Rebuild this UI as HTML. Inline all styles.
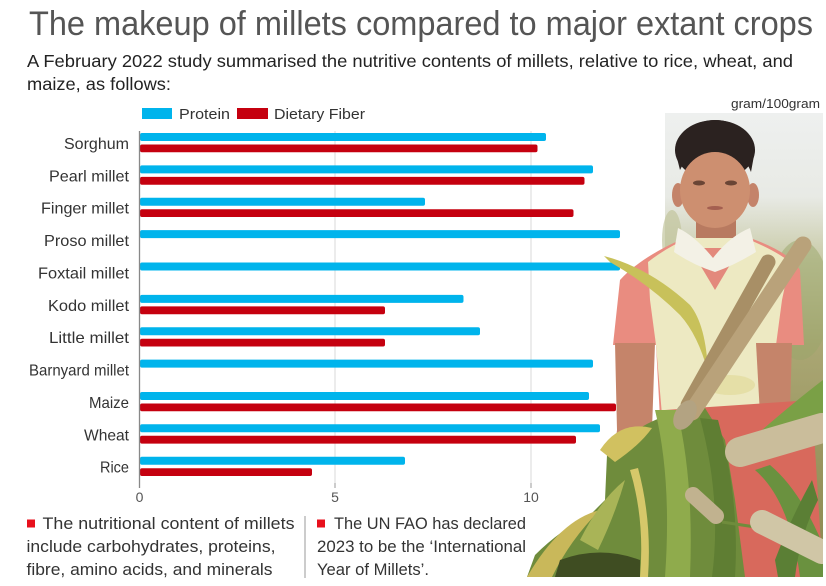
<!DOCTYPE html>
<html><head><meta charset="utf-8"><style>
html,body{margin:0;padding:0;background:#fff;}
svg{display:block;}
text{font-family:"Liberation Sans",sans-serif;}
</style></head><body>
<svg width="826" height="586" viewBox="0 0 826 586" xmlns="http://www.w3.org/2000/svg">
<defs>
<linearGradient id="bg" x1="0" y1="0" x2="0" y2="1">
<stop offset="0" stop-color="#eef0ef"/>
<stop offset="0.18" stop-color="#e8eae5"/>
<stop offset="0.32" stop-color="#c8caa6"/>
<stop offset="0.5" stop-color="#aaa774"/>
<stop offset="0.75" stop-color="#9a955f"/>
<stop offset="1" stop-color="#8a8a50"/>
</linearGradient>
<clipPath id="pc"><rect x="500" y="113" width="323" height="464"/></clipPath>
</defs>
<rect width="826" height="586" fill="#fff"/>

<!-- Title -->
<text x="29" y="35" font-size="34" fill="#555" textLength="784" lengthAdjust="spacingAndGlyphs">The makeup of millets compared to major extant crops</text>
<text x="27" y="67" font-size="17.5" fill="#222" textLength="766" lengthAdjust="spacingAndGlyphs">A February 2022 study summarised the nutritive contents of millets, relative to rice, wheat, and</text>
<text x="27" y="90" font-size="17.5" fill="#222" textLength="144" lengthAdjust="spacingAndGlyphs">maize, as follows:</text>

<!-- Legend -->
<rect x="142" y="108" width="30" height="11" fill="#00b4ec"/>
<text x="179" y="119" font-size="15" fill="#333" textLength="51" lengthAdjust="spacingAndGlyphs">Protein</text>
<rect x="237" y="108" width="31" height="11" fill="#c5000f"/>
<text x="274" y="119" font-size="15" fill="#333" textLength="91" lengthAdjust="spacingAndGlyphs">Dietary Fiber</text>
<text x="731" y="108" font-size="12.5" fill="#333" textLength="89" lengthAdjust="spacingAndGlyphs">gram/100gram</text>

<!-- Grid -->
<line x1="335" y1="131" x2="335" y2="483" stroke="#dadada" stroke-width="1"/>
<line x1="531" y1="131" x2="531" y2="483" stroke="#dadada" stroke-width="1"/>
<line x1="335" y1="483" x2="335" y2="488" stroke="#999" stroke-width="1"/>
<line x1="531" y1="483" x2="531" y2="488" stroke="#999" stroke-width="1"/>
<text x="139.5" y="502" font-size="14" fill="#555" text-anchor="middle">0</text>
<text x="335" y="502" font-size="14" fill="#555" text-anchor="middle">5</text>
<text x="531" y="502" font-size="14" fill="#555" text-anchor="middle">10</text>

<!-- Bars -->
<g fill="#00b4ec">
<rect x="140" y="133" width="406" height="8" rx="2"/>
<rect x="140" y="165.4" width="453" height="8" rx="2"/>
<rect x="140" y="197.7" width="285" height="8" rx="2"/>
<rect x="140" y="230.1" width="480" height="8" rx="2"/>
<rect x="140" y="262.5" width="480" height="8" rx="2"/>
<rect x="140" y="294.9" width="323.5" height="8" rx="2"/>
<rect x="140" y="327.2" width="340" height="8" rx="2"/>
<rect x="140" y="359.6" width="453" height="8" rx="2"/>
<rect x="140" y="392" width="449" height="8" rx="2"/>
<rect x="140" y="424.3" width="460" height="8" rx="2"/>
<rect x="140" y="456.7" width="265" height="8" rx="2"/>
</g>
<g fill="#c5000f">
<rect x="140" y="144.5" width="397.5" height="7.8" rx="2"/>
<rect x="140" y="176.9" width="444.5" height="7.8" rx="2"/>
<rect x="140" y="209.2" width="433.5" height="7.8" rx="2"/>
<rect x="140" y="306.4" width="245" height="7.8" rx="2"/>
<rect x="140" y="338.7" width="245" height="7.8" rx="2"/>
<rect x="140" y="403.5" width="476" height="7.8" rx="2"/>
<rect x="140" y="435.8" width="436" height="7.8" rx="2"/>
<rect x="140" y="468.2" width="172" height="7.8" rx="2"/>
</g>
<line x1="139.5" y1="131" x2="139.5" y2="488" stroke="#888" stroke-width="1.3"/>

<!-- Category labels -->
<g font-size="16" fill="#333">
<text x="64" y="149" textLength="65" lengthAdjust="spacingAndGlyphs">Sorghum</text>
<text x="49" y="181.4" textLength="80" lengthAdjust="spacingAndGlyphs">Pearl millet</text>
<text x="41" y="213.7" textLength="88" lengthAdjust="spacingAndGlyphs">Finger millet</text>
<text x="44" y="246.1" textLength="85" lengthAdjust="spacingAndGlyphs">Proso millet</text>
<text x="38" y="278.5" textLength="91" lengthAdjust="spacingAndGlyphs">Foxtail millet</text>
<text x="48" y="310.9" textLength="81" lengthAdjust="spacingAndGlyphs">Kodo millet</text>
<text x="49" y="343.2" textLength="80" lengthAdjust="spacingAndGlyphs">Little millet</text>
<text x="29" y="375.6" textLength="100" lengthAdjust="spacingAndGlyphs">Barnyard millet</text>
<text x="89" y="408" textLength="40" lengthAdjust="spacingAndGlyphs">Maize</text>
<text x="84" y="440.3" textLength="45" lengthAdjust="spacingAndGlyphs">Wheat</text>
<text x="100" y="472.5" textLength="29" lengthAdjust="spacingAndGlyphs">Rice</text>
</g>

<!-- Notes -->
<rect x="27" y="519.5" width="8" height="8" fill="#e8101c"/>
<g font-size="16.5" fill="#333">
<text x="42.5" y="529" textLength="252" lengthAdjust="spacingAndGlyphs">The nutritional content of millets</text>
<text x="26.5" y="552" textLength="249" lengthAdjust="spacingAndGlyphs">include carbohydrates, proteins,</text>
<text x="26.5" y="575" textLength="246" lengthAdjust="spacingAndGlyphs">fibre, amino acids, and minerals</text>
<text x="334" y="529" textLength="192" lengthAdjust="spacingAndGlyphs">The UN FAO has declared</text>
<text x="317" y="552" textLength="209" lengthAdjust="spacingAndGlyphs">2023 to be the ‘International</text>
<text x="317" y="575" textLength="112" lengthAdjust="spacingAndGlyphs">Year of Millets’.</text>
</g>
<line x1="305" y1="516" x2="305" y2="578" stroke="#999" stroke-width="1"/>
<rect x="317" y="519.5" width="8" height="8" fill="#e8101c"/>

<!-- Photo -->
<g clip-path="url(#pc)">
<rect x="665" y="113" width="158" height="464" fill="url(#bg)"/>
<ellipse cx="800" cy="300" rx="30" ry="60" fill="#9aa66a" opacity="0.5"/>
<ellipse cx="672" cy="240" rx="10" ry="30" fill="#c2c49c" opacity="0.7"/>
<!-- hair -->
<ellipse cx="715" cy="150" rx="40" ry="30" fill="#2b2220"/>
<!-- ears -->
<ellipse cx="678" cy="195" rx="6" ry="12" fill="#c4836a"/>
<ellipse cx="753" cy="195" rx="6" ry="12" fill="#c4836a"/>
<!-- neck -->
<rect x="696" y="215" width="40" height="28" fill="#b87a60"/>
<!-- face -->
<ellipse cx="715" cy="190" rx="35" ry="38" fill="#cd8f70"/>
<path d="M680,170 Q690,148 715,150 Q742,148 751,172 L755,150 Q745,120 714,120 Q682,122 675,150 Z" fill="#2b2220"/>
<ellipse cx="699" cy="183" rx="6" ry="2.5" fill="#6a4535"/>
<ellipse cx="731" cy="183" rx="6" ry="2.5" fill="#6a4535"/>
<ellipse cx="715" cy="208" rx="8" ry="2" fill="#a45f50"/>
<!-- shirt -->
<path d="M620,280 Q640,258 680,240 L750,238 Q790,252 800,270 L804,345 L758,345 L762,415 L660,418 L656,345 L613,345 Z" fill="#e98c80"/>
<path d="M648,262 Q670,245 690,238 L745,238 Q775,250 790,262 L782,300 L776,345 L782,410 L662,415 L656,345 L650,300 Z" fill="#ede9c2"/>
<path d="M690,248 L740,248 L715,290 Z" fill="#e3897c"/>
<path d="M678,228 Q695,236 713,258 Q730,236 750,228 L756,252 Q735,265 715,272 Q693,265 674,252 Z" fill="#f3f1e6"/>
<ellipse cx="730" cy="385" rx="25" ry="10" fill="#e2dca0" opacity="0.8"/>
<!-- arms -->
<path d="M615,343 L655,343 L652,430 L650,520 Q640,545 620,545 Q605,530 608,500 L617,430 Z" fill="#c5846a"/>
<path d="M756,343 L792,343 L790,410 L760,415 Z" fill="#c5846a"/>
<!-- pants -->
<path d="M665,410 L812,400 L823,577 L690,577 Z" fill="#d8695c"/>
<!-- leaves -->
<path d="M527,577 L535,555 Q560,530 590,515 L605,500 L607,455 Q630,430 660,418 L705,408 L725,440 L735,500 L745,577 Z" fill="#6f8c3c"/>
<path d="M527,577 Q560,520 600,510 Q570,540 552,577 Z" fill="#c9b85a"/>
<path d="M560,560 Q600,545 640,560 L640,577 L555,577 Z" fill="#3f4d22"/>
<path d="M655,410 Q672,480 665,577 L690,577 Q694,480 677,410 Z" fill="#8fab4c"/>
<path d="M700,418 Q722,500 712,577 L735,577 Q740,500 718,420 Z" fill="#5f7e33"/>
<path d="M600,450 Q620,420 652,428 Q640,445 615,462 Z" fill="#d1c160"/>
<path d="M580,540 Q600,500 625,480 Q615,515 598,550 Z" fill="#a9b457"/>
<path d="M630,470 Q645,520 640,577 L648,577 Q652,520 638,468 Z" fill="#d6c86a"/>
<path d="M755,470 Q790,500 800,577 L823,577 L823,545 Q800,490 770,465 Z" fill="#6a913f"/>
<path d="M745,445 Q790,405 823,380 L823,420 Q790,440 760,462 Z" fill="#7aa046"/>
<path d="M775,560 Q790,520 812,480 L818,500 Q800,535 795,577 L778,577 Z" fill="#5b7f35"/>
<!-- yellow leaf top -->
<path d="M604,256 Q650,268 690,305 Q706,325 708,372 Q698,335 680,315 Q650,285 610,262 Z" fill="#c8c15a"/>
<!-- millet spikes -->
<line x1="768" y1="262" x2="688" y2="405" stroke="#a88f66" stroke-width="15" stroke-linecap="round"/>
<line x1="803" y1="245" x2="692" y2="412" stroke="#b9a27a" stroke-width="17" stroke-linecap="round"/>
<ellipse cx="685" cy="415" rx="10" ry="16" transform="rotate(30 685 415)" fill="#b3a382"/>
<line x1="740" y1="452" x2="822" y2="428" stroke="#cabd9b" stroke-width="30" stroke-linecap="round"/>
<line x1="722" y1="522" x2="762" y2="528" stroke="#6f8c3c" stroke-width="3"/>
<line x1="762" y1="522" x2="822" y2="552" stroke="#d0c6a6" stroke-width="24" stroke-linecap="round"/>
<line x1="693" y1="495" x2="716" y2="516" stroke="#c1b28f" stroke-width="16" stroke-linecap="round"/>
</g>
</svg>
</body></html>
